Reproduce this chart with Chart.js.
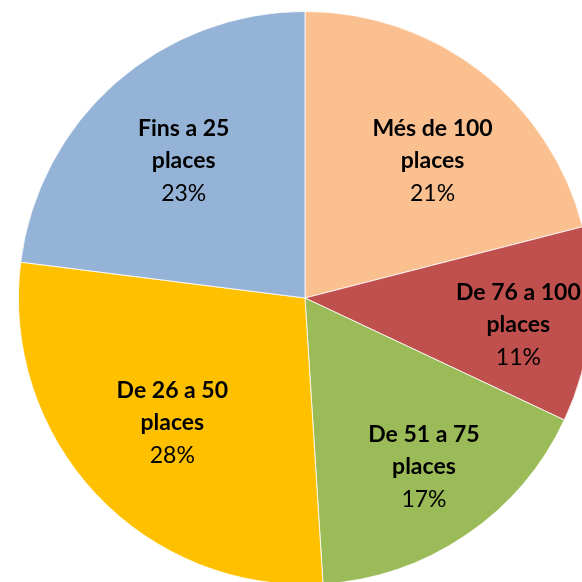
<!DOCTYPE html>
<html>
<head>
<meta charset="utf-8">
<script src="https://cdn.jsdelivr.net/npm/chart.js@4/dist/chart.umd.min.js"></script>
<style>
  html, body { margin: 0; padding: 0; background: #fff; overflow: hidden; }
  #wrap { position: relative; width: 582px; height: 582px; overflow: hidden; }
  #chart { position: absolute; left: 5px; top: -2px; }
</style>
</head>
<body>
<div id="wrap"><canvas id="chart" width="600" height="600"></canvas></div>
<script>
'use strict';

// ── Data ─────────────────────────────────────────────────────
const categories = [
  ['Més de 100', 'places'],
  ['De 76 a 100', 'places'],
  ['De 51 a 75', 'places'],
  ['De 26 a 50', 'places'],
  ['Fins a 25', 'places']
];
const shares = [21, 11, 17, 28, 23];
const colors = ['#FAC090', '#C0504D', '#9BBB59', '#FFC000', '#95B3D7'];

// label placement (Excel best-fit look): radius fraction + angle nudge in degrees
const labelRadius = [0.655, 0.75, 0.72, 0.635, 0.64];
const labelNudge = [5, 1.6, -1, 0, 0];

// ── Labels inside slices ─────────────────────────────────────
const sliceLabels = {
  id: 'sliceLabels',
  afterDatasetsDraw(chart) {
    const ctx = chart.ctx;
    const meta = chart.getDatasetMeta(0);
    const total = shares.reduce((a, b) => a + b, 0);
    ctx.save();
    ctx.fillStyle = '#000';
    ctx.textAlign = 'center';
    ctx.textBaseline = 'middle';
    meta.data.forEach((arc, i) => {
      const mid = (arc.startAngle + arc.endAngle) / 2 + labelNudge[i] * Math.PI / 180;
      const r = arc.outerRadius * labelRadius[i];
      const x = arc.x + Math.cos(mid) * r;
      const y = arc.y + Math.sin(mid) * r;
      const lines = categories[i];
      ctx.font = 'bold 23px Lato, "Open Sans", sans-serif';
      ctx.fillText(lines[0], x, y - 32);
      ctx.fillText(lines[1], x, y);
      ctx.font = '23px Lato, "Open Sans", sans-serif';
      ctx.fillText(Math.round(shares[i] / total * 100) + '%', x, y + 33);
    });
    ctx.restore();
  }
};

new Chart(document.getElementById('chart'), {
  type: 'pie',
  data: {
    labels: categories.map(c => c.join(' ')),
    datasets: [{
      data: shares,
      backgroundColor: colors,
      borderColor: '#ffffff',
      borderWidth: 0.8
    }]
  },
  options: {
    responsive: false,
    animation: false,
    layout: { padding: 13 },
    plugins: {
      legend: { display: false },
      tooltip: { enabled: false }
    }
  },
  plugins: [sliceLabels]
});
</script>
</body>
</html>
